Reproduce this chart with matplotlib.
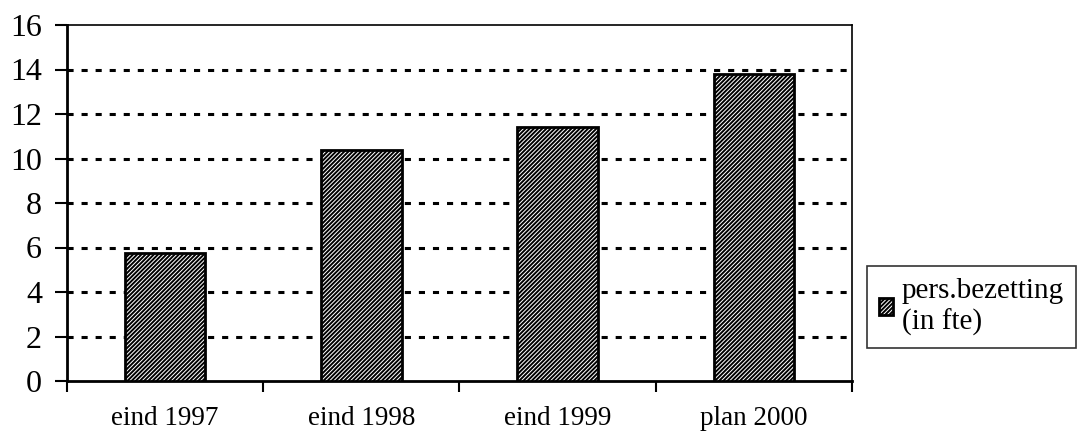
import matplotlib
matplotlib.use("Agg")
import matplotlib.pyplot as plt
import numpy as np

categories = ["eind 1997", "eind 1998", "eind 1999", "plan 2000"]
values = [5.75, 10.4, 11.4, 13.8]
yticks = [0, 2, 4, 6, 8, 10, 12, 14, 16]
legend_label = "pers.bezetting\n(in fte)"

plt.rcParams['font.family'] = ['Liberation Serif', 'DejaVu Serif']
plt.rcParams['hatch.linewidth'] = 1.4

fig = plt.figure(figsize=(10.77, 4.32), dpi=100)
ax = fig.add_axes([67/1077, 1 - 381/432, (852-67)/1077, (381-25)/432])

x = np.arange(len(categories))
bars = ax.bar(x, values, width=0.41, color='white', edgecolor='black',
              hatch='////////', linewidth=2, zorder=3, label=legend_label)

ax.set_xlim(-0.5, len(categories) - 0.5)
ax.set_ylim(0, 16)
ax.set_yticks(yticks)
ax.set_yticklabels([str(t) for t in yticks], fontsize=23)
ax.set_xticks(x)
ax.set_xticklabels(categories, fontsize=19.5)
ax.tick_params(axis='x', length=0, pad=18)
ax.set_xticks(np.arange(-0.5, len(categories), 1.0), minor=True)
ax.tick_params(axis='x', which='minor', length=8, width=1.5, direction='out')
ax.tick_params(axis='y', length=9, width=1.5, direction='out', pad=9)

for yv in yticks[1:-1]:
    ax.axhline(yv, color='black', linewidth=2.2, linestyle=(0, (2.0, 2.6)), zorder=1)

ax.spines['left'].set_linewidth(2)
ax.spines['bottom'].set_linewidth(2)
ax.spines['top'].set_linewidth(1.2)
ax.spines['right'].set_linewidth(1.2)

leg = fig.legend(loc='upper left', bbox_to_anchor=(867/1077, 1 - 266/432),
                 fontsize=21, frameon=True, fancybox=False, edgecolor='black',
                 handlelength=0.5, handleheight=0.5, handletextpad=0.3,
                 borderpad=0.4, borderaxespad=0, labelspacing=0.1)
leg.get_frame().set_linewidth(1.2)
for t in leg.get_texts():
    t.set_linespacing(1.25)

fig.savefig("out.png", dpi=100)
